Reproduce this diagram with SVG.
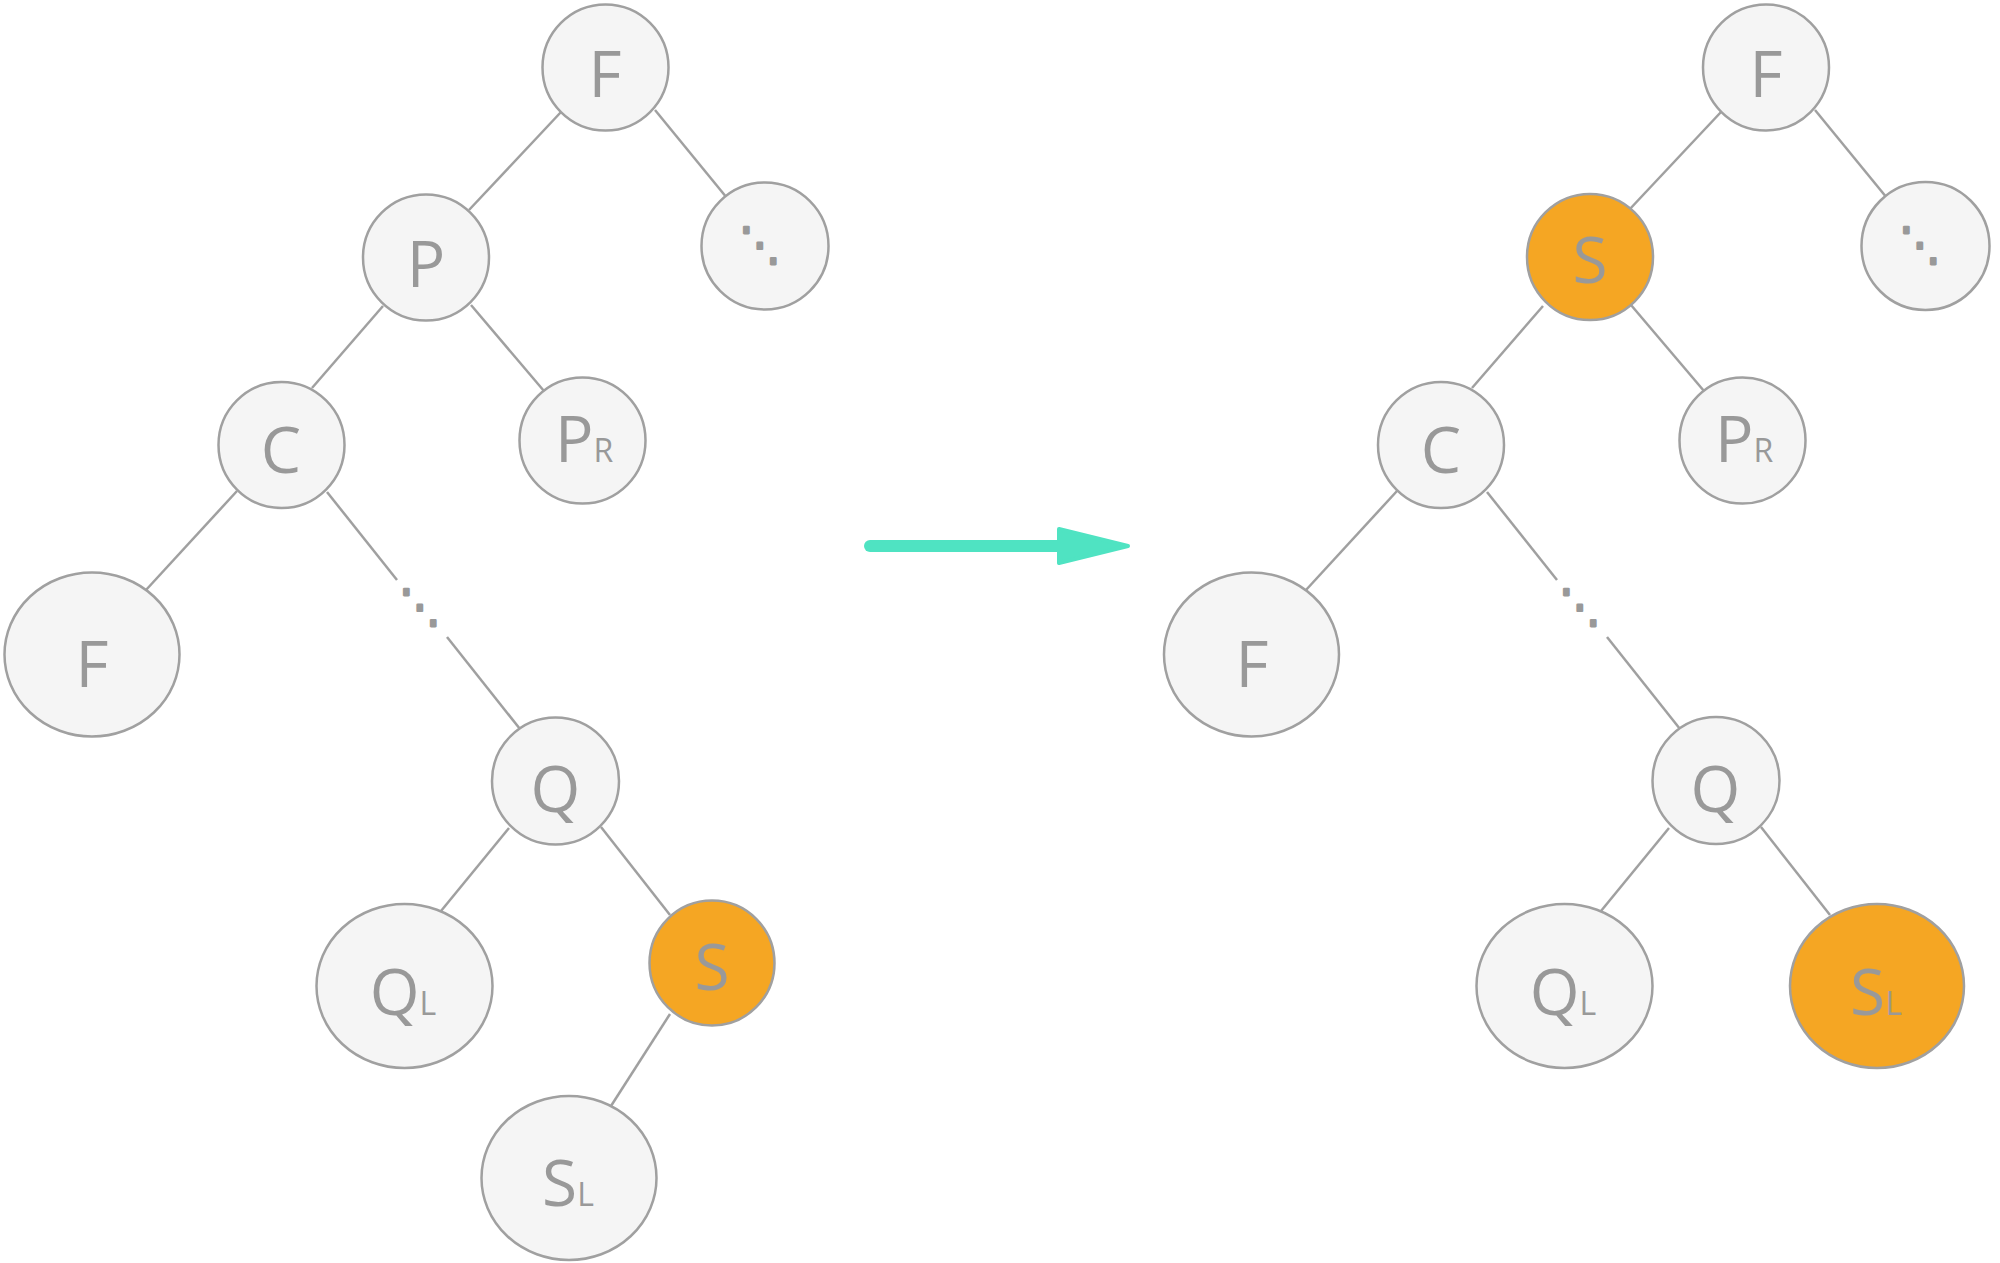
<svg xmlns="http://www.w3.org/2000/svg" width="2000" height="1263" viewBox="0 0 2000 1263">
<style>
.n{fill:#f5f5f5;stroke:#a0a0a0;stroke-width:2.5}
.o{fill:#f5a623;stroke:#a0a0a0;stroke-width:2.5}
.e{stroke:#a0a0a0;stroke-width:2.5;fill:none}
.t{font-family:"Open Sans","Noto Sans",sans-serif;font-size:64px;fill:#999999;text-anchor:middle}
.s{font-size:32px}
.d{font-family:"DejaVu Sans",sans-serif;font-size:41px;fill:#999999;stroke:#999999;stroke-width:2.6;stroke-linejoin:round;text-anchor:middle}
</style>
<rect width="2000" height="1263" fill="#ffffff"/>
<g id="connectors">
<line class="e" x1="561" y1="112" x2="469" y2="210"/>
<line class="e" x1="655" y1="110" x2="727" y2="198"/>
<line class="e" x1="471" y1="305" x2="544" y2="391"/>
<line class="e" x1="383" y1="306" x2="312" y2="388"/>
<line class="e" x1="237" y1="491" x2="146" y2="590"/>
<line class="e" x1="327" y1="492" x2="397" y2="580"/>
<line class="e" x1="447" y1="637" x2="520" y2="729"/>
<text class="d" transform="translate(420,608) scale(1,1.12)" x="0" y="12.3">⋱</text>
<line class="e" x1="509" y1="828" x2="441" y2="911"/>
<line class="e" x1="601" y1="827" x2="670" y2="915"/>
<line class="e" x1="670" y1="1014" x2="611" y2="1106"/>
<line class="e" x1="1721" y1="112" x2="1629" y2="210"/>
<line class="e" x1="1815" y1="110" x2="1887" y2="198"/>
<line class="e" x1="1631" y1="305" x2="1704" y2="391"/>
<line class="e" x1="1543" y1="306" x2="1472" y2="388"/>
<line class="e" x1="1397" y1="491" x2="1306" y2="590"/>
<line class="e" x1="1487" y1="492" x2="1557" y2="580"/>
<line class="e" x1="1607" y1="637" x2="1680" y2="729"/>
<text class="d" transform="translate(1580,608) scale(1,1.12)" x="0" y="12.3">⋱</text>
<line class="e" x1="1669" y1="828" x2="1601" y2="911"/>
<line class="e" x1="1761" y1="827" x2="1830" y2="915"/>
</g>
<g id="arrow">
<line x1="870" y1="546" x2="1065" y2="546" stroke="#4fe3c2" stroke-width="12" stroke-linecap="round"/>
<polygon points="1059,529 1128,546 1059,563" fill="#4fe3c2" stroke="#4fe3c2" stroke-width="4" stroke-linejoin="round"/>
</g>
<g id="L-F"><circle class="n" cx="605.5" cy="67.5" r="63"/><text class="t" x="605" y="97">F</text></g>
<g id="L-P"><circle class="n" cx="426" cy="257.5" r="63"/><text class="t" x="426" y="287">P</text></g>
<g id="L-dots"><circle class="n" cx="765" cy="246" r="63.5"/><text class="d" transform="translate(760,246) scale(1,1.12)" x="0" y="12.3">⋱</text></g>
<g id="L-C"><circle class="n" cx="281.5" cy="445" r="63"/><text class="t" x="281" y="473">C</text></g>
<g id="L-PR"><circle class="n" cx="582.5" cy="440.5" r="63"/><text class="t" x="584" y="462">P<tspan class="s">R</tspan></text></g>
<g id="L-F2"><ellipse class="n" cx="92" cy="654.5" rx="87.5" ry="82"/><text class="t" x="92" y="687">F</text></g>
<g id="L-Q"><circle class="n" cx="555.5" cy="781" r="63.5"/><text class="t" x="555.5" y="812">Q</text></g>
<g id="L-QL"><ellipse class="n" cx="404.5" cy="986" rx="88" ry="82"/><text class="t" x="403" y="1015">Q<tspan class="s">L</tspan></text></g>
<g id="L-S"><circle class="o" cx="712" cy="963" r="62.5"/><text class="t" x="712" y="990">S</text></g>
<g id="L-SL"><ellipse class="n" cx="569" cy="1178" rx="87.5" ry="82"/><text class="t" x="568" y="1206">S<tspan class="s">L</tspan></text></g>
<g id="R-F"><circle class="n" cx="1766" cy="67.5" r="63"/><text class="t" x="1766" y="97">F</text></g>
<g id="R-S"><circle class="o" cx="1590" cy="257" r="63"/><text class="t" x="1590" y="283">S</text></g>
<g id="R-dots"><circle class="n" cx="1925.5" cy="246" r="64"/><text class="d" transform="translate(1920,246) scale(1,1.12)" x="0" y="12.3">⋱</text></g>
<g id="R-C"><circle class="n" cx="1441" cy="445" r="63"/><text class="t" x="1441" y="473">C</text></g>
<g id="R-PR"><circle class="n" cx="1742.5" cy="440.5" r="63"/><text class="t" x="1744" y="462">P<tspan class="s">R</tspan></text></g>
<g id="R-F2"><ellipse class="n" cx="1251.5" cy="654.5" rx="87.5" ry="82"/><text class="t" x="1252" y="687">F</text></g>
<g id="R-Q"><circle class="n" cx="1716" cy="780.5" r="63.5"/><text class="t" x="1715.5" y="812">Q</text></g>
<g id="R-QL"><ellipse class="n" cx="1564.5" cy="986" rx="88" ry="82"/><text class="t" x="1563" y="1015">Q<tspan class="s">L</tspan></text></g>
<g id="R-SL"><ellipse class="o" cx="1877" cy="986" rx="87" ry="82"/><text class="t" x="1876" y="1015">S<tspan class="s">L</tspan></text></g>
</svg>
